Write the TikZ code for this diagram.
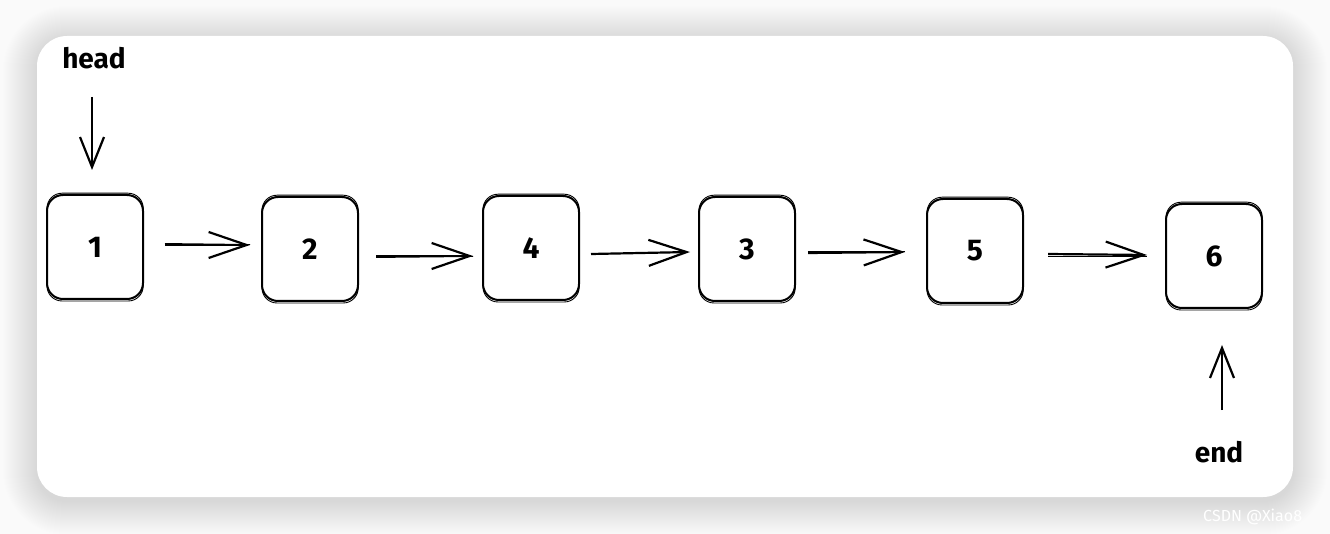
\documentclass[tikz,border=0pt]{standalone}
\usepackage{fontspec}
\setmainfont{Fira Sans}
\usetikzlibrary{arrows.meta}
\definecolor{bgc}{HTML}{FAFAFA}
\begin{document}
\begin{tikzpicture}[x=1pt,y=-1pt,
  cell/.style={draw=black, line width=2pt, rounded corners=16pt,
    minimum width=96pt, minimum height=104pt, inner sep=0pt,
    font=\fontsize{30}{30}\selectfont\bfseries},
  link/.style={line width=2.2pt, -{Straight Barb[length=38pt,width=26pt,line width=2.2pt]}},
  vlink/.style={line width=2.2pt, -{Straight Barb[length=30pt,width=24pt,line width=2.2pt]}},
  lbl/.style={font=\fontsize{28}{28}\selectfont\bfseries, inner sep=0pt}]
\clip (0,0) rectangle (1330,534);
\fill[bgc] (0,0) rectangle (1330,534);
% shadow layers (smooth blur)
\foreach \s in {1,...,34}{
  \fill[black, opacity=0.0042, rounded corners=30pt+\s pt]
    (37-\s,40-\s) rectangle (1293+\s,501+\s);
}
% card
\fill[white, rounded corners=30pt] (37,36) rectangle (1293,497);
% nodes
\node[cell] (n1) at (95,247) {1};
\node[cell] (n2) at (310,249) {2};
\node[cell] (n4) at (531,248) {4};
\node[cell] (n3) at (747,249) {3};
\node[cell] (n5) at (975,251) {5};
\node[cell] (n6) at (1214,256) {6};
% sketchy second strokes
\foreach \n in {n1,n2,n4,n3,n5,n6}{
  \draw[line width=0.9pt, rounded corners=15pt] ([xshift=1pt,yshift=0.8pt]\n.north west) rectangle ([xshift=-0.8pt,yshift=-1pt]\n.south east);
}
% links
\coordinate (a1s) at (165,245); \coordinate (a1e) at (250,245);
\coordinate (a2s) at (376,256); \coordinate (a2e) at (473,256);
\coordinate (a3s) at (591,254); \coordinate (a3e) at (690,252);
\coordinate (a4s) at (808,253); \coordinate (a4e) at (905,252);
\coordinate (a5s) at (1048,254); \coordinate (a5e) at (1147,255);
\draw[link] (a1s) -- (a1e);
\draw[link] (a2s) -- (a2e);
\draw[link] (a3s) -- (a3e);
\draw[link] (a4s) -- (a4e);
\draw[link] (a5s) -- (a5e);
\draw[line width=0.9pt] ([yshift=1.5pt]a1s) -- ([yshift=0.5pt]a1e);
\draw[line width=0.9pt] ([yshift=-1.5pt]a2s) -- ([yshift=-0.5pt]a2e);
\draw[line width=0.9pt] ([yshift=1.5pt]a4s) -- ([yshift=0.5pt]a4e);
\draw[line width=0.9pt] ([yshift=-2.5pt]a5s) -- ([yshift=-1.5pt]a5e);
% head / end
\node[lbl] (head) at (94,58) {head};
\node[lbl] (endl) at (1219,452) {end};
\coordinate (hs) at (92,97); \coordinate (he) at (92,170);
\coordinate (es) at (1222,410); \coordinate (ee) at (1222,345);
\draw[vlink] (hs) -- (he);
\draw[vlink] (es) -- (ee);
% watermark
\node[anchor=west, text=white, font=\fontsize{16}{16}\selectfont, inner sep=0pt] (wm) at (1203,517) {CSDN @Xiao8};
\end{tikzpicture}
\end{document}
